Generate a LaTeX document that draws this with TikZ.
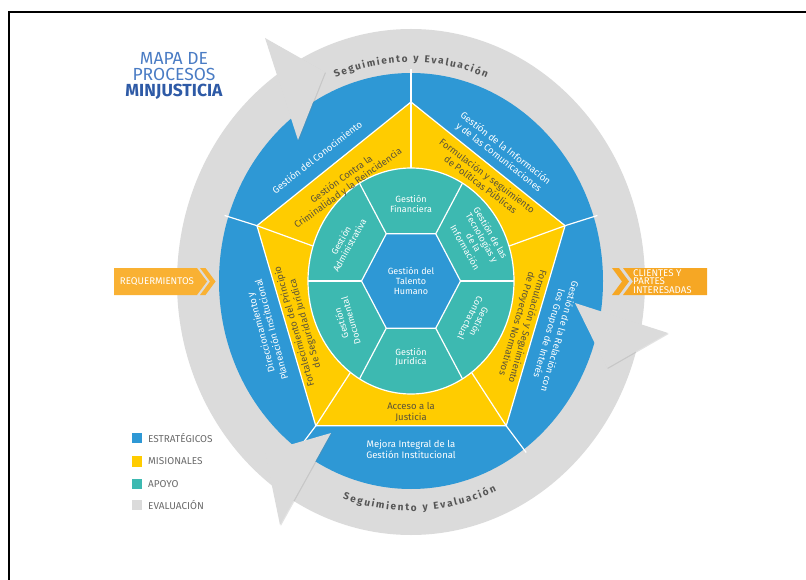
\documentclass[tikz,border=0pt]{standalone}
\usepackage{fontspec}
\setmainfont{Fira Sans}
\usetikzlibrary{shadows,decorations.text}
\definecolor{cblue}{HTML}{2E98D5}
\definecolor{cyel}{HTML}{FFCC00}
\definecolor{cteal}{HTML}{3DB9B1}
\definecolor{cgray}{HTML}{DBDBDB}
\definecolor{corange}{HTML}{F9B133}
\definecolor{corangeb}{HTML}{F6A724}
\definecolor{ctitle}{HTML}{4A7CC4}
\definecolor{ctitleb}{HTML}{2E5AA6}
\definecolor{ytext}{HTML}{5A5239}
\definecolor{gtext}{HTML}{555555}
\definecolor{ltext}{HTML}{6A6A6A}
\begin{document}
\begin{tikzpicture}[x=1pt,y=-1pt,
  sep/.style={white,line width=1.2pt},
  bluetxt/.style={text=white,font=\fontsize{9.5}{11}\selectfont,align=center,inner sep=0pt},
  yeltxt/.style={text=ytext,font=\fontsize{9.5}{11}\selectfont,align=center,inner sep=0pt},
  tealtxt/.style={text=white,font=\fontsize{9}{9.8}\selectfont,align=center,inner sep=0pt},
  legtxt/.style={text=ltext,font=\fontsize{10}{10}\selectfont,anchor=west,inner sep=0pt},
  legsq/.style={minimum size=10.5pt,inner sep=0pt},
  otxt/.style={text=white,font=\fontsize{9.7}{8.6}\selectfont,inner sep=0pt},
  arrowhd/.style={fill=cgray,drop shadow={opacity=0.22,shadow xshift=0.9pt,shadow yshift=-0.9pt}},
  ringtxt/.style={decorate,decoration={text along path,text align=fit to path,text color=gtext,
     text={|\bfseries\fontsize{10}{10}\selectfont|#1}}}
]
\useasboundingbox (0,0) rectangle (806,580);
% frame
\draw[line width=2.2pt] (9,600) -- (9,12) -- (830,12);

% rings
\fill[cgray] (411,282) ellipse [x radius=234pt, y radius=253pt];
\fill[cblue] (411,281) ellipse [x radius=192pt, y radius=208pt];

\foreach \i/\a in {1/90,2/162,3/234,4/306,5/18} {
  \coordinate (P\i) at ({411+162*cos(\a)},{281-179*sin(\a)});
  \coordinate (B\i) at ({411+196*cos(\a)},{281-212*sin(\a)});
  \coordinate (T\i) at ({411+103*cos(\a)},{281-113*sin(\a)});
}
\foreach \i/\a in {1/0,2/60,3/120,4/180,5/240,6/300} {
  \coordinate (H\i) at ({411+49.5*cos(\a)},{281-54.5*sin(\a)});
  \coordinate (E\i) at ({411+103*cos(\a)},{281-113*sin(\a)});
}

\foreach \i in {1,...,5} \draw[sep] (P\i) -- (B\i);

% arrow heads of the evaluation ring
\fill[arrowhd] (265,38) -- (325,72) -- (298,140) -- cycle;
\fill[arrowhd] (575,303) -- (668,333) -- (607,368) -- cycle;
\fill[arrowhd] (331,433) -- (280,525) -- (265,452) -- cycle;

% pentagon
\filldraw[fill=cyel,draw=white,line width=1.2pt,line join=round] (P1) -- (P2) -- (P3) -- (P4) -- (P5) -- cycle;
\foreach \i in {1,...,5} \draw[sep] (P\i) -- (T\i);

% teal ring
\filldraw[fill=cteal,draw=white,line width=1.2pt] (411,281) ellipse [x radius=103pt, y radius=113pt];
\foreach \i in {1,...,6} \draw[sep] (H\i) -- (E\i);
\filldraw[fill=cblue,draw=white,line width=1.2pt,line join=round] (H1) -- (H2) -- (H3) -- (H4) -- (H5) -- (H6) -- cycle;

% ring texts
\path[ringtxt={Seguimiento y Evaluación}] ([shift={(411,281)}]112:201pt and 219pt) arc[start angle=112,end angle=68,x radius=201pt,y radius=219pt];
\path[ringtxt={Seguimiento y Evaluación}] ([shift={(411,281)}]251:210pt and 230pt) arc[start angle=251,end angle=294,x radius=210pt,y radius=230pt];

% blue texts
\node[bluetxt,rotate=38] (bc) at (317,157) {Gestión del Conocimiento};
\node[bluetxt,rotate=-38] (bi) at (502,153) {Gestión de la Información\\y de las Comunicaciones};
\node[bluetxt,rotate=-106] (br) at (554,335) {Gestión de la Relación con\\los Grupos de Interés};
\node[bluetxt] (bb) at (411,449) {Mejora Integral de la\\Gestión Institucional};
\node[bluetxt,rotate=105] (bl) at (266,331) {Direccionamiento y\\Planeación Institucional};

% yellow texts
\node[yeltxt,rotate=36] (yc) at (345,184) {Gestión Contra la\\Criminalidad y la Reincidencia};
\node[yeltxt,rotate=-37] (yp) at (484,180) {Formulación y seguimiento\\de Políticas Públicas};
\node[yeltxt,rotate=-106] (yr) at (522,325) {Formulación y Seguimiento\\de Proyectos Normativos};
\node[yeltxt] (ya) at (411,412) {Acceso a la\\Justicia};
\node[yeltxt,rotate=106] (yl) at (300,325) {Fortalecimiento del Principio\\de Seguridad Jurídica};

% teal texts
\node[tealtxt] (tf) at (411,204) {Gestión\\Financiera};
\node[tealtxt,rotate=-60] (tg) at (478,240) {Gestión de las\\Tecnologías y\\de la\\Información};
\node[tealtxt,rotate=-116] (tc) at (475,320) {Gestión\\Contractual};
\node[tealtxt] (tj) at (411,357) {Gestión\\Jurídica};
\node[tealtxt,rotate=106] (td) at (346,322) {Gestión\\Documental};
\node[tealtxt,rotate=61] (ta) at (345,243) {Gestión\\Administrativa};
\node[tealtxt] (th) at (411,281) {Gestión del\\Talento\\Humano};

% title
\node[align=center,inner sep=0pt,text=ctitle,font=\fontsize{17.5}{16}\selectfont] (title) at (174,76)
  {MAPA DE\\PROCESOS\\{\bfseries\color{ctitleb}MINJUSTICIA}};

% input / output
\fill[corange] (114,268) -- (197,268) -- (207,281.5) -- (197,295) -- (114,295) -- cycle;
\fill[corange] (200,268) -- (205.5,268) -- (215.5,281.5) -- (205.5,295) -- (200,295) -- (210,281.5) -- cycle;
\node[otxt] (req) at (157,281.5) {REQUERMIENTOS};
\fill[corangeb] (612,268) -- (619,268) -- (629,281.5) -- (619,295) -- (612,295) -- (622,281.5) -- cycle;
\fill[corangeb] (623,268) -- (707,268) -- (707,295) -- (623,295) -- (633,281.5) -- cycle;
\node[otxt,align=left,anchor=west] (cli) at (633,281.5) {CLIENTES Y\\PARTES\\INTERESADAS};

% legend
\node[legsq,fill=cblue] (s1) at (137,438) {};
\node[legsq,fill=cyel] (s2) at (137,461.5) {};
\node[legsq,fill=cteal] (s3) at (137,484) {};
\node[legsq,fill=cgray] (s4) at (137,505) {};
\node[legtxt] (l1) at (148,438) {ESTRATÉGICOS};
\node[legtxt] (l2) at (148,461.5) {MISIONALES};
\node[legtxt] (l3) at (148,484) {APOYO};
\node[legtxt] (l4) at (148,505) {EVALUACIÓN};
\end{tikzpicture}
\end{document}
